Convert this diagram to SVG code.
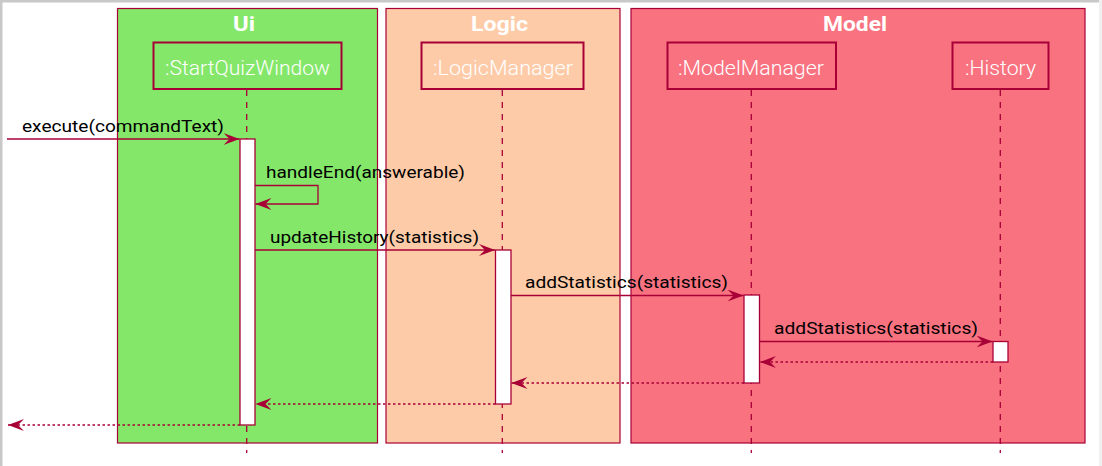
<svg xmlns="http://www.w3.org/2000/svg" width="1102" height="466" viewBox="0 0 1102 466">
<defs>
<style>
.frame{stroke:#A80036;stroke-width:1.2}
.title{font-family:Roboto,"Liberation Sans",sans-serif;font-weight:bold;font-size:20px;fill:#FFFFFF}
.part rect{stroke:#A80036;stroke-width:2}
.pname{font-family:Roboto,"Liberation Sans",sans-serif;font-weight:300;font-size:20.5px;fill:#FFFFFF}
.life{stroke:#A80036;stroke-width:1.3;stroke-dasharray:6,6;fill:none}
.act{fill:#FFFFFF;stroke:#A80036;stroke-width:1.3}
.msg{stroke:#A80036;stroke-width:1.3;fill:none}
.ret{stroke:#A80036;stroke-width:1.3;fill:none;stroke-dasharray:2.5,2.5}
.lbl{font-family:Roboto,"Liberation Sans",sans-serif;font-size:16.5px;fill:#000000}
</style>
<marker id="ah" viewBox="0 0 16 12" refX="16" refY="6" markerWidth="16" markerHeight="12" markerUnits="userSpaceOnUse" orient="auto">
<polygon points="0,0 16,6 0,12 6,6" fill="#A80036"/>
</marker>
</defs>
<rect x="0" y="0" width="1102" height="466" fill="#FFFFFF"/>
<rect x="0" y="0" width="1102" height="2.5" fill="#C8C8C8"/>
<rect x="0" y="0" width="2.5" height="466" fill="#C8C8C8"/>
<rect x="1099" y="0" width="3" height="466" fill="#F0F0F0"/>

<g id="frame-ui">
<rect class="frame" x="117.5" y="8.5" width="260" height="434.5" fill="#84E76A"/>
<text class="title" x="233" y="31" textLength="22" lengthAdjust="spacingAndGlyphs">Ui</text>
</g>
<g id="frame-logic">
<rect class="frame" x="386" y="8.5" width="234" height="434.5" fill="#FECBA8"/>
<text class="title" x="471" y="31" textLength="57" lengthAdjust="spacingAndGlyphs">Logic</text>
</g>
<g id="frame-model">
<rect class="frame" x="631" y="8.5" width="454" height="434.5" fill="#F87280"/>
<text class="title" x="823" y="31" textLength="64" lengthAdjust="spacingAndGlyphs">Model</text>
</g>

<g id="lifelines">
<line class="life" x1="246.7" y1="90" x2="246.7" y2="453"/>
<line class="life" x1="502.3" y1="90" x2="502.3" y2="453"/>
<line class="life" x1="751.3" y1="90" x2="751.3" y2="453"/>
<line class="life" x1="1000.3" y1="90" x2="1000.3" y2="453"/>
</g>

<g id="p-startquizwindow" class="part">
<rect x="153.5" y="42.5" width="188" height="46.5" fill="#84E76A"/>
<text class="pname" x="165" y="75" textLength="165" lengthAdjust="spacingAndGlyphs">:StartQuizWindow</text>
</g>
<g id="p-logicmanager" class="part">
<rect x="421.5" y="42.5" width="162" height="46.5" fill="#FECBA8"/>
<text class="pname" x="433" y="75" textLength="140" lengthAdjust="spacingAndGlyphs">:LogicManager</text>
</g>
<g id="p-modelmanager" class="part">
<rect x="667.5" y="42.5" width="168.5" height="46.5" fill="#F87280"/>
<text class="pname" x="678" y="75" textLength="146" lengthAdjust="spacingAndGlyphs">:ModelManager</text>
</g>
<g id="p-history" class="part">
<rect x="952.5" y="42.5" width="96" height="46.5" fill="#F87280"/>
<text class="pname" x="965" y="75" textLength="71" lengthAdjust="spacingAndGlyphs">:History</text>
</g>

<g id="activations">
<rect class="act" x="240" y="139" width="15" height="286"/>
<rect class="act" x="495.5" y="250" width="15.5" height="154"/>
<rect class="act" x="744" y="295" width="15.5" height="88"/>
<rect class="act" x="993" y="341.5" width="15" height="20.5"/>
</g>

<g id="connectors">
<line class="msg" x1="7" y1="139" x2="239.5" y2="139" marker-end="url(#ah)"/>
<polyline class="msg" points="255,185.5 318,185.5 318,204 255.5,204" marker-end="url(#ah)"/>
<line class="msg" x1="255" y1="250" x2="495" y2="250" marker-end="url(#ah)"/>
<line class="msg" x1="511" y1="295.5" x2="743.5" y2="295.5" marker-end="url(#ah)"/>
<line class="msg" x1="759.5" y1="341.5" x2="992.5" y2="341.5" marker-end="url(#ah)"/>
<line class="ret" x1="993" y1="362" x2="760" y2="362" marker-end="url(#ah)"/>
<line class="ret" x1="744" y1="383" x2="511.5" y2="383" marker-end="url(#ah)"/>
<line class="ret" x1="495.5" y1="404" x2="255.5" y2="404" marker-end="url(#ah)"/>
<line class="ret" x1="240" y1="425" x2="8" y2="425" marker-end="url(#ah)"/>
</g>

<g id="labels">
<text class="lbl" x="22" y="132" textLength="202" lengthAdjust="spacingAndGlyphs">execute(commandText)</text>
<text class="lbl" x="266" y="178" textLength="199" lengthAdjust="spacingAndGlyphs">handleEnd(answerable)</text>
<text class="lbl" x="270" y="243" textLength="209" lengthAdjust="spacingAndGlyphs">updateHistory(statistics)</text>
<text class="lbl" x="525" y="288" textLength="203" lengthAdjust="spacingAndGlyphs">addStatistics(statistics)</text>
<text class="lbl" x="774" y="334" textLength="204" lengthAdjust="spacingAndGlyphs">addStatistics(statistics)</text>
</g>
</svg>
